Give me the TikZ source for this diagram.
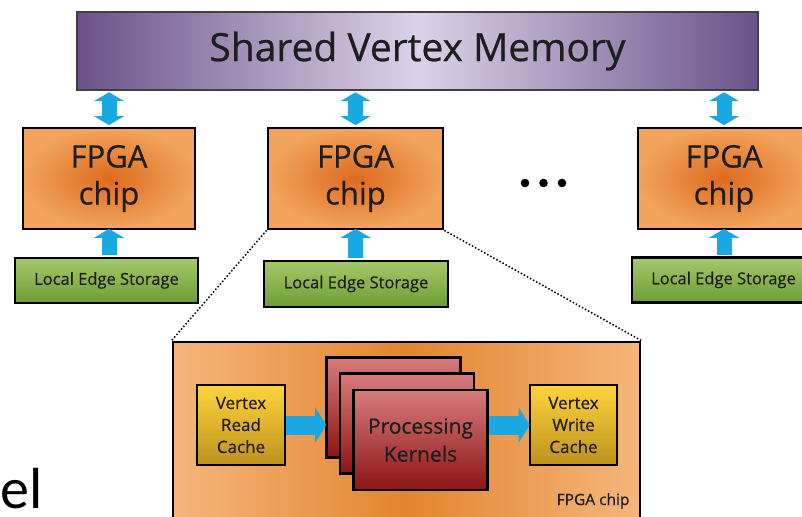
\documentclass[tikz,border=0pt]{standalone}
\usepackage{fontspec}
\setmainfont{Open Sans}[BoldFont={Open Sans},BoldFeatures={FakeBold=0.6}]
\newfontfamily\slidefont{Carlito}
\usetikzlibrary{arrows.meta}
\definecolor{memdark}{HTML}{6A5288}
\definecolor{memlight}{HTML}{DDD2E8}
\definecolor{chipin}{HTML}{DE6A1E}
\definecolor{chipout}{HTML}{F2A45C}
\definecolor{boardedge}{HTML}{F5B67C}
\definecolor{boardmid}{HTML}{E2852E}
\definecolor{storetop}{HTML}{A6C96A}
\definecolor{storebot}{HTML}{6E9C34}
\definecolor{cachetop}{HTML}{FFD33C}
\definecolor{cachebot}{HTML}{BE921E}
\definecolor{kerntop}{HTML}{D87C7C}
\definecolor{kernbot}{HTML}{8C1414}
\definecolor{busblue}{HTML}{1AA8E2}
\definecolor{ink}{HTML}{1E1E1E}
\begin{document}
\begin{tikzpicture}[x=1pt,y=-1pt, text=ink,
  memory/.style={draw=black!75,line width=1.5pt,left color=memdark,right color=memdark,middle color=memlight,
    minimum width=681pt,minimum height=78pt,font=\bfseries\fontsize{39}{44}\selectfont},
  chip/.style={draw=black,line width=2.8pt,inner color=chipin,outer color=chipout,align=center,
    minimum width=172pt,minimum height=101pt,font=\bfseries\fontsize{31}{37}\selectfont},
  storage/.style={draw=black,line width=2.8pt,top color=storetop,bottom color=storebot,
    minimum width=183pt,minimum height=45pt,inner sep=0pt,font=\bfseries\fontsize{16.5}{20}\selectfont},
  cache/.style={draw=black,line width=2.6pt,top color=cachetop,bottom color=cachebot,align=center,
    minimum width=88pt,minimum height=80pt,inner sep=0pt,font=\bfseries\fontsize{17}{22}\selectfont},
  kernel/.style={draw=black,line width=2.6pt,top color=kerntop,bottom color=kernbot,align=center,
    minimum width=134pt,minimum height=100pt,inner sep=0pt,font=\bfseries\fontsize{21}{28}\selectfont},
  bus/.style={busblue,line width=15pt,{Triangle[width=30pt,length=9pt]}-{Triangle[width=30pt,length=9pt]}},
  feed/.style={busblue,line width=15pt,-{Triangle[width=30pt,length=9pt]}},
  flow/.style={busblue,line width=19pt,-{Triangle[width=35pt,length=11pt]}},
  zoomline/.style={dotted,line width=1.5pt}]
\useasboundingbox (0,0) rectangle (802,516);
% top level: one shared memory, several FPGA chips with their own edge storage
\node[memory] (mem) at (417.5,51) {Shared Vertex Memory};
\node[chip] (chipA) at (109,178.5) {FPGA\\chip};
\node[chip,minimum width=175pt] (chipB) at (355.5,178.5) {FPGA\\chip};
\node[chip] (chipC) at (724,178.5) {FPGA\\chip};
\node[storage] (storeA) at (106.5,280.5) {Local Edge Storage};
\node[storage,minimum width=184pt,minimum height=46pt] (storeB) at (356,284) {Local Edge Storage};
\node[storage] (storeC) at (723.5,280) {Local Edge Storage};
\foreach \c in {A,B,C}{
  \draw[bus] ([yshift=-1.5pt]mem.south -| chip\c) -- ([yshift=1.5pt]chip\c.north);
  \draw[feed] ([yshift=1.5pt]store\c.north -| chip\c) -- ([yshift=1.5pt]chip\c.south);
}
\foreach \x in {525,543.5,562} \fill (\x,183) circle (4.3pt);

% inside one chip
\node[draw=black,line width=2.8pt,left color=boardedge,right color=boardedge,middle color=boardmid,
  minimum width=467pt,minimum height=178pt] (board) at (406.5,431) {};
\draw[zoomline] (chipB.south west) -- (board.north west);
\draw[zoomline] (chipB.south east) -- (board.north east);
\node[anchor=base east,font=\bfseries\fontsize{15.5}{18}\selectfont] (boardname) at (633,505) {FPGA chip};
\node[cache] (readc) at (241,425) {Vertex\\Read\\Cache};
\node[kernel] (kernA) at (393.5,407.5) {};
\node[kernel] (kernB) at (407,423.5) {};
\node[kernel] (kernC) at (420.5,440) {Processing\\Kernels};
\node[cache,minimum width=87pt] (writec) at (573.5,425) {Vertex\\Write\\Cache};
\draw[flow] (readc.east) -- ([xshift=1pt]readc.east -| kernA.west);
\draw[flow] (kernC.east |- writec.west) -- ([xshift=1pt]writec.west);

\node[anchor=base west,inner sep=0pt,text=black,font=\slidefont\fontsize{58}{60}\selectfont] (slide) at (0,508) {el};
\end{tikzpicture}
\end{document}
